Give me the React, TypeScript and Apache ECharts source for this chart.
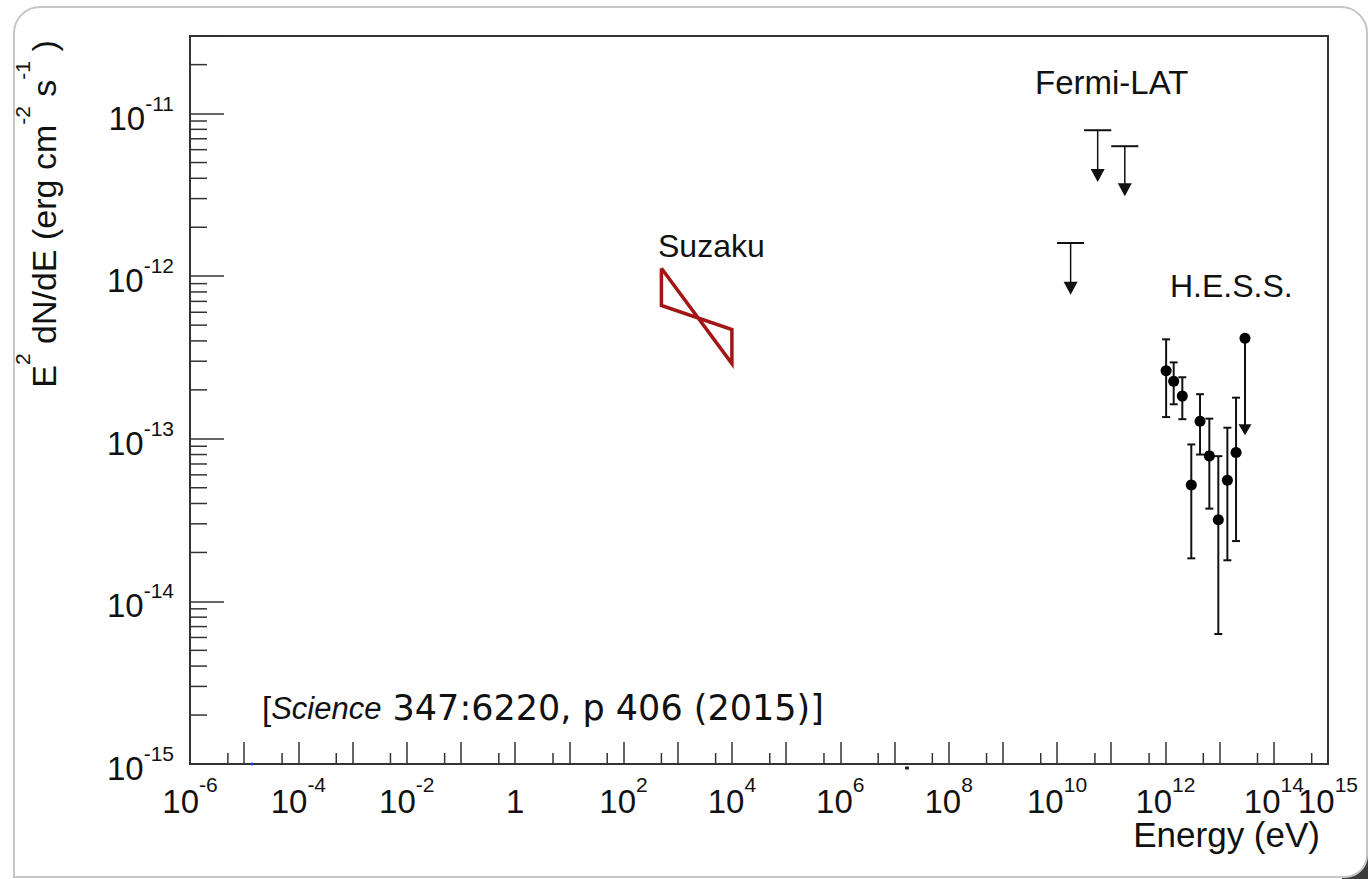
import React, { useEffect, useRef } from "react";
import * as echarts from "echarts";

// Axis ranges (energy in eV, E^2 dN/dE in erg cm^-2 s^-1)
const energyRange = [1e-6, 1e15];
const fluxRange = [1e-15, 3e-11];

// Tick labels: exponents shown on each axis
const xLabelExponents = [-6, -4, -2, 0, 2, 4, 6, 8, 10, 12, 14];
const xEndLabelExponents = [15];
const yLabelExponents = [-15, -14, -13, -12, -11];
const yMinorMantissas = [2, 3, 4, 5, 6, 7, 8, 9];
const xMinorMantissas = [5];

// Suzaku X-ray bow-tie, 0.5–10 keV
const suzakuEnergy = [500, 1e4];
const suzakuUpper = [1.12e-12, 4.7e-13];
const suzakuLower = [6.6e-13, 2.9e-13];

// Fermi-LAT upper limits
const fermiEnergy = [1.78e10, 5.62e10, 1.78e11];
const fermiBinLow = [1e10, 3.16e10, 1e11];
const fermiBinHigh = [3.16e10, 1e11, 3.16e11];
const fermiLimit = [1.6e-12, 7.9e-12, 6.3e-12];
const fermiArrowEnd = [7.7e-13, 3.8e-12, 3.1e-12];

// H.E.S.S. spectral points with errors
const hessEnergy = [1.03e12, 1.42e12, 2.05e12, 3.0e12, 4.35e12, 6.46e12, 9.46e12, 1.39e13, 2.01e13];
const hessFlux = [2.62e-13, 2.26e-13, 1.83e-13, 5.2e-14, 1.28e-13, 7.85e-14, 3.18e-14, 5.56e-14, 8.24e-14];
const hessErrHigh = [4.09e-13, 2.95e-13, 2.39e-13, 9.23e-14, 1.88e-13, 1.33e-13, 7.82e-14, 1.17e-13, 1.79e-13];
const hessErrLow = [1.36e-13, 1.63e-13, 1.32e-13, 1.84e-14, 8.0e-14, 3.72e-14, 6.3e-15, 1.79e-14, 2.35e-14];

// H.E.S.S. highest-energy upper limit
const hessLimitEnergy = [2.94e13];
const hessLimit = [4.15e-13];
const hessLimitArrowEnd = [1.05e-13];

// Stray markers clipped at the lower edge
const strayBlueEnergy = [1.4e-5];
const strayBlackEnergy = [1.7e7];

const FONT = '"Liberation Sans", Arial, Helvetica, sans-serif';
const INK = "#111";
const FRAME = "#333";
const SUZAKU_RED = "#a31616";

const lg = (v: number) => Math.log10(v);

function App() {
  const ref = useRef<HTMLDivElement>(null);

  useEffect(() => {
    if (!ref.current) return;
    const chart = echarts.init(ref.current, undefined, { renderer: "svg" });

    const xMin = lg(energyRange[0]);
    const xMax = lg(energyRange[1]);
    const yMin = lg(fluxRange[0]);
    const yMax = lg(fluxRange[1]);

    const yMinorTicks: number[][] = [];
    for (let e = Math.round(yMin); e < Math.ceil(yMax); e++) {
      yMinorMantissas.forEach((m) => {
        const v = lg(m) + e;
        if (v < yMax - 1e-6) yMinorTicks.push([xMin, v]);
      });
    }
    const xMinorTicks: number[][] = [];
    for (let e = Math.round(xMin); e < Math.round(xMax); e++) {
      xMinorMantissas.forEach((m) => xMinorTicks.push([lg(m) + e, yMin]));
    }

    // "10" sits at the bottom of the line box, the exponent at its top
    const supRich = (main: number, sup: number, lh: number) => ({
      b: { fontSize: main, lineHeight: lh, verticalAlign: "bottom", fontFamily: FONT, color: INK },
      s: { fontSize: sup, lineHeight: lh, verticalAlign: "top", fontFamily: FONT, color: INK },
    });

    const expLabel = (allowed: number[]) => (v: number) => {
      const e = Math.round(v);
      if (Math.abs(v - e) > 1e-6 || !allowed.includes(e)) return "";
      return e === 0 ? "{b|1}" : `{b|10}{s|${e}}`;
    };

    const bowtie = [
      [lg(suzakuEnergy[0]), lg(suzakuUpper[0])],
      [lg(suzakuEnergy[1]), lg(suzakuLower[1])],
      [lg(suzakuEnergy[1]), lg(suzakuUpper[1])],
      [lg(suzakuEnergy[0]), lg(suzakuLower[0])],
      [lg(suzakuEnergy[0]), lg(suzakuUpper[0])],
    ];

    const fermiData = fermiEnergy.map((e, i) => [
      lg(e), lg(fermiLimit[i]), lg(fermiBinLow[i]), lg(fermiBinHigh[i]), lg(fermiArrowEnd[i]),
    ]);

    const hessErrData = hessEnergy.map((e, i) => [lg(e), lg(hessErrLow[i]), lg(hessErrHigh[i])]);
    const hessPoints = hessEnergy.map((e, i) => [lg(e), lg(hessFlux[i])]);
    const hessLimitData = hessLimitEnergy.map((e, i) => [lg(e), lg(hessLimit[i]), lg(hessLimitArrowEnd[i])]);

    const arrowHead = (x: number, y: number, w: number, h: number) => ({
      type: "polygon",
      shape: { points: [[x - w / 2, y - h], [x + w / 2, y - h], [x, y]] },
      style: { fill: INK },
    });

    const xAxisBase = {
      type: "value",
      min: xMin,
      max: xMax,
      interval: 1,
      position: "bottom",
      splitLine: { show: false },
    };

    const option: any = {
      animation: false,
      backgroundColor: "#fff",
      grid: {
        left: 190,
        right: 40,
        top: 36,
        bottom: 115,
        show: true,
        borderColor: FRAME,
        borderWidth: 2,
        containLabel: false,
      },
      xAxis: [
        {
          ...xAxisBase,
          axisLine: { show: true, onZero: false, lineStyle: { color: FRAME, width: 2 } },
          axisTick: { show: true, inside: true, length: 22, lineStyle: { color: FRAME, width: 1.5 } },
          axisLabel: {
            show: true,
            interval: 0,
            margin: 10,
            hideOverlap: false,
            showMinLabel: true,
            showMaxLabel: false,
            formatter: expLabel(xLabelExponents),
            rich: supRich(33, 21, 44),
          },
        },
        {
          ...xAxisBase,
          axisLine: { show: false, onZero: false },
          axisTick: { show: false },
          axisLabel: {
            show: true,
            interval: 0,
            margin: 10,
            hideOverlap: false,
            showMaxLabel: true,
            formatter: expLabel(xEndLabelExponents),
            rich: supRich(33, 21, 44),
          },
        },
      ],
      yAxis: {
        type: "value",
        min: yMin,
        max: yMax,
        interval: 1,
        axisLine: { show: true, onZero: false, lineStyle: { color: FRAME, width: 2 } },
        axisTick: { show: true, inside: true, length: 34, lineStyle: { color: FRAME, width: 1.5 } },
        splitLine: { show: false },
        axisLabel: {
          show: true,
          margin: 16,
          showMinLabel: true,
          formatter: expLabel(yLabelExponents),
          rich: supRich(33, 21, 42),
        },
      },
      series: [
        {
          name: "y minor ticks",
          type: "custom",
          silent: true,
          data: yMinorTicks,
          renderItem: (_p: any, api: any) => {
            const p = api.coord([api.value(0), api.value(1)]);
            return {
              type: "line",
              shape: { x1: p[0], y1: p[1], x2: p[0] + 17, y2: p[1] },
              style: { stroke: FRAME, lineWidth: 1.5 },
            };
          },
        },
        {
          name: "x minor ticks",
          type: "custom",
          silent: true,
          data: xMinorTicks,
          renderItem: (_p: any, api: any) => {
            const p = api.coord([api.value(0), api.value(1)]);
            return {
              type: "line",
              shape: { x1: p[0], y1: p[1], x2: p[0], y2: p[1] - 11 },
              style: { stroke: FRAME, lineWidth: 1.5 },
            };
          },
        },
        {
          name: "Suzaku",
          type: "line",
          data: bowtie,
          showSymbol: false,
          symbol: "none",
          lineStyle: { color: SUZAKU_RED, width: 3.5, join: "miter" },
          z: 3,
        },
        {
          name: "Fermi-LAT",
          type: "custom",
          data: fermiData,
          z: 4,
          renderItem: (_p: any, api: any) => {
            const e = api.value(0);
            const ul = api.value(1);
            const pL = api.coord([api.value(2), ul]);
            const pR = api.coord([api.value(3), ul]);
            const pTop = api.coord([e, ul]);
            const pEnd = api.coord([e, api.value(4)]);
            return {
              type: "group",
              children: [
                { type: "line", shape: { x1: pL[0], y1: pL[1], x2: pR[0], y2: pR[1] }, style: { stroke: INK, lineWidth: 2 } },
                { type: "line", shape: { x1: pTop[0], y1: pTop[1], x2: pEnd[0], y2: pEnd[1] - 6 }, style: { stroke: INK, lineWidth: 1.5 } },
                arrowHead(pEnd[0], pEnd[1], 14, 13),
              ],
            };
          },
        },
        {
          name: "H.E.S.S. errors",
          type: "custom",
          data: hessErrData,
          z: 4,
          renderItem: (_p: any, api: any) => {
            const x = api.value(0);
            const lo = api.coord([x, api.value(1)]);
            const hi = api.coord([x, api.value(2)]);
            const cap = 4;
            const st = { stroke: INK, lineWidth: 2 };
            return {
              type: "group",
              children: [
                { type: "line", shape: { x1: lo[0], y1: lo[1], x2: hi[0], y2: hi[1] }, style: st },
                { type: "line", shape: { x1: lo[0] - cap, y1: lo[1], x2: lo[0] + cap, y2: lo[1] }, style: st },
                { type: "line", shape: { x1: hi[0] - cap, y1: hi[1], x2: hi[0] + cap, y2: hi[1] }, style: st },
              ],
            };
          },
        },
        {
          name: "H.E.S.S. limit",
          type: "custom",
          data: hessLimitData,
          z: 4,
          renderItem: (_p: any, api: any) => {
            const x = api.value(0);
            const top = api.coord([x, api.value(1)]);
            const end = api.coord([x, api.value(2)]);
            return {
              type: "group",
              children: [
                { type: "line", shape: { x1: top[0], y1: top[1], x2: end[0], y2: end[1] - 6 }, style: { stroke: INK, lineWidth: 2 } },
                { type: "circle", shape: { cx: top[0], cy: top[1], r: 5.5 }, style: { fill: "#000" } },
                arrowHead(end[0], end[1], 13, 11),
              ],
            };
          },
        },
        {
          name: "H.E.S.S.",
          type: "scatter",
          data: hessPoints,
          symbol: "circle",
          symbolSize: 11,
          itemStyle: { color: "#000", opacity: 1 },
          z: 5,
        },
        {
          name: "stray blue",
          type: "scatter",
          data: strayBlueEnergy.map((e) => [lg(e), yMin]),
          symbolSize: 3,
          itemStyle: { color: "#2030e0", opacity: 1 },
          z: 5,
        },
        {
          name: "stray black",
          type: "scatter",
          data: strayBlackEnergy.map((e) => [lg(e), yMin]),
          symbol: "rect",
          symbolSize: [4, 3],
          symbolOffset: [0, 4],
          itemStyle: { color: "#222", opacity: 1 },
          z: 5,
        },
      ],
      graphic: [
        {
          type: "rect",
          z: -20,
          shape: { x: 1342, y: 853, width: 26, height: 26 },
          style: { fill: "#3c3c3c" },
        },
        {
          type: "rect",
          z: -10,
          shape: { x: 14, y: 7, width: 1353, height: 870, r: [26, 26, 22, 0] },
          style: { fill: "#fff", stroke: "#c6c6c6", lineWidth: 2 },
        },
        {
          type: "text",
          x: 36,
          y: 214,
          rotation: Math.PI / 2,
          style: {
            text: "{b|E}{s|2}{b| dN/dE (erg cm}{s|-2}{b| s}{s|-1}{b| )}",
            align: "center",
            verticalAlign: "middle",
            rich: {
              b: { fontSize: 34, lineHeight: 49, verticalAlign: "bottom", fontFamily: FONT, fill: INK, color: INK },
              s: { fontSize: 21, lineHeight: 49, verticalAlign: "top", fontFamily: FONT, fill: INK, color: INK },
            },
          },
        },
        {
          type: "text",
          x: 1320,
          y: 834,
          style: {
            text: "Energy (eV)",
            fontSize: 35,
            lineHeight: 26,
            fontFamily: FONT,
            fill: INK,
            align: "right",
            verticalAlign: "middle",
          },
        },
        {
          type: "text",
          x: 1035,
          y: 82,
          style: { text: "Fermi-LAT", fontSize: 33, fontFamily: FONT, fill: INK, align: "left", verticalAlign: "middle" },
        },
        {
          type: "text",
          x: 658,
          y: 246,
          style: { text: "Suzaku", fontSize: 32, fontFamily: FONT, fill: INK, align: "left", verticalAlign: "middle" },
        },
        {
          type: "text",
          x: 1170,
          y: 286,
          style: { text: "H.E.S.S.", fontSize: 32, fontFamily: FONT, fill: INK, align: "left", verticalAlign: "middle" },
        },
        {
          type: "text",
          x: 262,
          y: 708,
          style: {
            text: "{n|[}{i|Science}{d| 347:6220, p 406 (2015)]}",
            align: "left",
            verticalAlign: "middle",
            rich: {
              n: { fontSize: 33, fontFamily: FONT, fill: INK, color: INK },
              i: { fontSize: 31, fontFamily: FONT, fontStyle: "italic", fill: INK, color: INK },
              d: { fontSize: 35, fontFamily: '"DejaVu Sans", sans-serif', fill: INK, color: INK },
            },
          },
        },
      ],
    };

    chart.setOption(option);
    return () => chart.dispose();
  }, []);

  return (
    <div
      ref={ref}
      style={{ position: "fixed", left: 0, top: 0, width: 1368, height: 879, background: "#fff" }}
    />
  );
}

export default App;
